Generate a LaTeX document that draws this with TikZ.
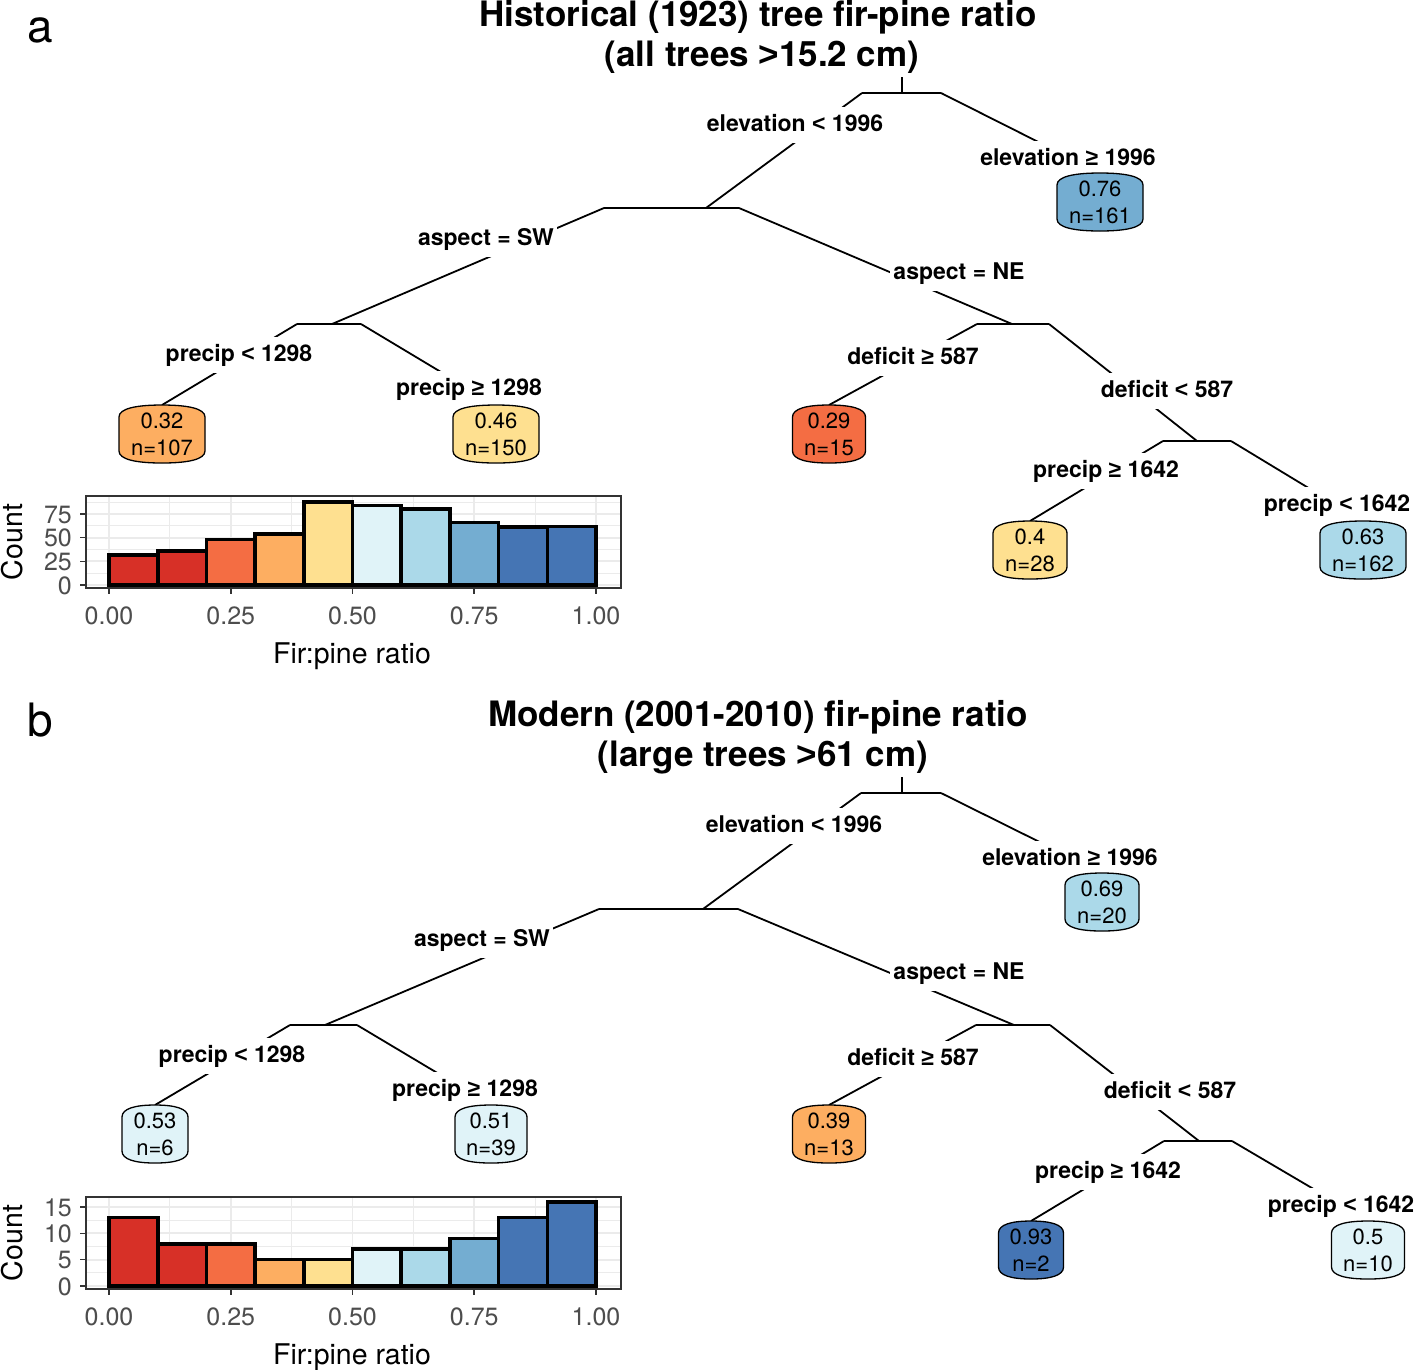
\documentclass[tikz,border=0pt]{standalone}
\usepackage{fontspec}
\setmainfont{TeX Gyre Heros}
\newfontfamily\symf{Liberation Sans}
\newcommand\gee{{\symf ≥}}
\newcommand\ltsym{{\symf <}}
\newcommand\gtsym{{\symf >}}
\definecolor{cR}{HTML}{D73027}
\definecolor{cO}{HTML}{F46D43}
\definecolor{cLO}{HTML}{FDAE61}
\definecolor{cY}{HTML}{FEE090}
\definecolor{cLB}{HTML}{E0F3F8}
\definecolor{cBa}{HTML}{ABD9E9}
\definecolor{cBb}{HTML}{74ADD1}
\definecolor{cBc}{HTML}{4575B4}
\definecolor{gridc}{HTML}{EBEBEB}
\definecolor{axg}{HTML}{333333}
\definecolor{tickt}{HTML}{4D4D4D}
\tikzset{
  branch/.style={line width=1.8pt, black},
  split/.style={font=\fontsize{23}{26}\selectfont\bfseries, fill=white, anchor=base,
     text height=17pt, text depth=5pt, inner xsep=3pt, inner ysep=7pt},
  leafnode/.style={minimum height=58pt, inner sep=0pt, draw=none},
  leafline/.style={line width=1.3pt, black},
  leaftxt/.style={font=\fontsize{22}{26}\selectfont, anchor=base, inner sep=0pt},
  title/.style={font=\fontsize{35}{40}\selectfont\bfseries, anchor=base, inner sep=0pt},
  panel/.style={font=\fontsize{46}{50}\selectfont, anchor=base, inner sep=0pt},
  tickl/.style={font=\fontsize{25}{28}\selectfont, text=tickt, anchor=base, inner sep=0pt},
  ytickl/.style={font=\fontsize{25}{28}\selectfont, text=tickt, anchor=base east, inner sep=0pt},
  axlab/.style={font=\fontsize{28.5}{32}\selectfont, anchor=base, inner sep=0pt},
  histbar/.style={line width=3.6pt, black},
  gmaj/.style={gridc, line width=1.8pt},
  gmin/.style={gridc, line width=0.9pt},
  tickm/.style={axg, line width=1.6pt},
}
\newcommand\leaf[7]{%
  \draw[leafline, fill=#5] ({#2-#4},{#3-17}) -- ({#2-#4},{#3+17})
    .. controls ({#2-#4},{#3+25.5}) and ({#2-0.6*#4},{#3+29}) .. ({#2},{#3+29})
    .. controls ({#2+0.6*#4},{#3+29}) and ({#2+#4},{#3+25.5}) .. ({#2+#4},{#3+17})
    -- ({#2+#4},{#3-17})
    .. controls ({#2+#4},{#3-25.5}) and ({#2+0.6*#4},{#3-29}) .. ({#2},{#3-29})
    .. controls ({#2-0.6*#4},{#3-29}) and ({#2-#4},{#3-25.5}) .. cycle;
  \node[leafnode, minimum width={2*#4}] (#1) at (#2,#3) {};
  \node[leaftxt] (#1a) at ({#2},{#3-6}) {#6};
  \node[leaftxt] (#1b) at ({#2},{#3+21}) {#7};
}
% histogram: #1 prefix, #2 top y, #3 zero y, #4 px per count, #5 bar list, #6 major y, #7 minor y
\newcommand\hist[7]{%
  \fill[white] (86,#2) rectangle (621,{#2+92});
  \foreach \v in {0.125,0.375,0.625,0.875} \draw[gmin] ({109+487*\v},#2) -- ({109+487*\v},{#2+92});
  \foreach \c in {#7} \draw[gmin] (86,{#3-#4*\c}) -- (621,{#3-#4*\c});
  \foreach \v in {0,0.25,0.5,0.75,1} \draw[gmaj] ({109+487*\v},#2) -- ({109+487*\v},{#2+92});
  \foreach \c in {#6} \draw[gmaj] (86,{#3-#4*\c}) -- (621,{#3-#4*\c});
  \foreach \c/\col [count=\i from 0] in {#5}
    \draw[histbar, fill=\col] ({109+48.7*\i},#3) rectangle ({109+48.7*(\i+1)},{#3-#4*\c});
  \draw[axg, line width=1.6pt] (86,#2) rectangle (621,{#2+92});
  \foreach \v/\t in {0/0.00,0.25/0.25,0.5/0.50,0.75/0.75,1/1.00} {
    \draw[tickm] ({109+487*\v},{#2+92}) -- ({109+487*\v},{#2+98});
    \node[tickl] (#1x\t) at ({109+487*\v},{#2+128}) {\t};
  }
  \foreach \c in {#6} {
    \draw[tickm] (80,{#3-#4*\c}) -- (86,{#3-#4*\c});
    \node[ytickl] (#1y\c) at (72,{#3-#4*\c+9}) {\c};
  }
  \node[axlab] (#1xl) at (352,{#2+167}) {Fir:pine ratio};
  \node[axlab, rotate=90] (#1yl) at (22,{#2+46}) {Count};
}
\begin{document}
\begin{tikzpicture}[x=1pt,y=-1pt]
\useasboundingbox[fill=white] (0,0) rectangle (1415,1369);

% ================= Panel a =================
\node[panel] (pa) at (40,42) {a};
\node[title] (ta1) at (758,26) {Historical (1923) tree fir-pine ratio};
\node[title] (ta2) at (762,66) {(all trees \gtsym15.2 cm)};

\coordinate (aS) at (902,77);
\coordinate (aB0l) at (862,93); \coordinate (aB0m) at (902,93); \coordinate (aB0r) at (941,93);
\coordinate (aB1l) at (604,208); \coordinate (aB1m) at (706,208); \coordinate (aB1r) at (739,208);
\coordinate (aB2l) at (297,324); \coordinate (aB2m) at (332,324); \coordinate (aB2r) at (361,324);
\coordinate (aB3l) at (977,324); \coordinate (aB3m) at (1012,324); \coordinate (aB3r) at (1049,324);
\coordinate (aB4l) at (1163,441); \coordinate (aB4m) at (1197,441); \coordinate (aB4r) at (1231,441);
\coordinate (aT1) at (1100,173);
\coordinate (aT2) at (162,405);
\coordinate (aT3) at (496,405);
\coordinate (aT4) at (829,405);
\coordinate (aT5) at (1030,521);
\coordinate (aT6) at (1363,521);

\draw[branch] (aS) -- (aB0m);
\draw[branch] (aB0l) -- (aB0r);
\draw[branch] (aB1l) -- (aB1r);
\draw[branch] (aB2l) -- (aB2r);
\draw[branch] (aB3l) -- (aB3r);
\draw[branch] (aB4l) -- (aB4r);
\draw[branch] (aB0l) -- (aB1m);
\draw[branch] (aB0r) -- (aT1);
\draw[branch] (aB1l) -- (aB2m);
\draw[branch] (aB1r) -- (aB3m);
\draw[branch] (aB2l) -- (aT2);
\draw[branch] (aB2r) -- (aT3);
\draw[branch] (aB3l) -- (aT4);
\draw[branch] (aB3r) -- (aB4m);
\draw[branch] (aB4l) -- (aT5);
\draw[branch] (aB4r) -- (aT6);

\node[split] (as1) at (795,131) {elevation \ltsym{} 1996};
\node[split] (as2) at (1068,165) {elevation \gee{} 1996};
\node[split] (as3) at (486,245) {aspect = SW};
\node[split] (as4) at (959,279) {aspect = NE};
\node[split] (as5) at (239,361) {precip \ltsym{} 1298};
\node[split] (as6) at (469,395) {precip \gee{} 1298};
\node[split] (as7) at (913,364) {deficit \gee{} 587};
\node[split] (as8) at (1167,397) {deficit \ltsym{} 587};
\node[split] (as9) at (1106,477) {precip \gee{} 1642};
\node[split] (as10) at (1337,511) {precip \ltsym{} 1642};

\leaf{aL1}{1100}{202}{43}{cBb}{0.76}{n=161}
\leaf{aL2}{162}{434}{43}{cLO}{0.32}{n=107}
\leaf{aL3}{496}{434}{43}{cY}{0.46}{n=150}
\leaf{aL4}{829}{434}{36.5}{cO}{0.29}{n=15}
\leaf{aL5}{1030}{550}{37}{cY}{0.4}{n=28}
\leaf{aL6}{1363}{550}{43}{cBa}{0.63}{n=162}

\hist{ha}{496}{585}{0.9467}{32/cR,36/cR,48/cO,54/cLO,88/cY,84/cLB,80/cBa,66/cBb,61/cBc,62/cBc}{0,25,50,75}{12.5,37.5,62.5,87.5}

% ================= Panel b =================
\node[panel] (pb) at (40,736) {b};
\node[title] (tb1) at (758,726) {Modern (2001-2010) fir-pine ratio};
\node[title] (tb2) at (763,766) {(large trees \gtsym61 cm)};

\coordinate (bS) at (902,777);
\coordinate (bB0l) at (861,793); \coordinate (bB0m) at (902,793); \coordinate (bB0r) at (941,793);
\coordinate (bB1l) at (599,909); \coordinate (bB1m) at (703,909); \coordinate (bB1r) at (738,909);
\coordinate (bB2l) at (290,1025); \coordinate (bB2m) at (325,1025); \coordinate (bB2r) at (357,1025);
\coordinate (bB3l) at (976,1025); \coordinate (bB3m) at (1014,1025); \coordinate (bB3r) at (1050,1025);
\coordinate (bB4l) at (1164,1141); \coordinate (bB4m) at (1199,1141); \coordinate (bB4r) at (1232,1141);
\coordinate (bT1) at (1102,873);
\coordinate (bT2) at (155,1105);
\coordinate (bT3) at (491,1105);
\coordinate (bT4) at (829,1105);
\coordinate (bT5) at (1031,1221);
\coordinate (bT6) at (1368,1221);

\draw[branch] (bS) -- (bB0m);
\draw[branch] (bB0l) -- (bB0r);
\draw[branch] (bB1l) -- (bB1r);
\draw[branch] (bB2l) -- (bB2r);
\draw[branch] (bB3l) -- (bB3r);
\draw[branch] (bB4l) -- (bB4r);
\draw[branch] (bB0l) -- (bB1m);
\draw[branch] (bB0r) -- (bT1);
\draw[branch] (bB1l) -- (bB2m);
\draw[branch] (bB1r) -- (bB3m);
\draw[branch] (bB2l) -- (bT2);
\draw[branch] (bB2r) -- (bT3);
\draw[branch] (bB3l) -- (bT4);
\draw[branch] (bB3r) -- (bB4m);
\draw[branch] (bB4l) -- (bT5);
\draw[branch] (bB4r) -- (bT6);

\node[split] (bs1) at (794,832) {elevation \ltsym{} 1996};
\node[split] (bs2) at (1070,865) {elevation \gee{} 1996};
\node[split] (bs3) at (482,946) {aspect = SW};
\node[split] (bs4) at (959,979) {aspect = NE};
\node[split] (bs5) at (232,1062) {precip \ltsym{} 1298};
\node[split] (bs6) at (465,1096) {precip \gee{} 1298};
\node[split] (bs7) at (913,1065) {deficit \gee{} 587};
\node[split] (bs8) at (1170,1098) {deficit \ltsym{} 587};
\node[split] (bs9) at (1108,1178) {precip \gee{} 1642};
\node[split] (bs10) at (1341,1212) {precip \ltsym{} 1642};

\leaf{bL1}{1102}{902}{37}{cBa}{0.69}{n=20}
\leaf{bL2}{155}{1134}{33}{cLB}{0.53}{n=6}
\leaf{bL3}{491}{1134}{36}{cLB}{0.51}{n=39}
\leaf{bL4}{829}{1134}{36.5}{cLO}{0.39}{n=13}
\leaf{bL5}{1031}{1250}{32.5}{cBc}{0.93}{n=2}
\leaf{bL6}{1368}{1250}{36.5}{cLB}{0.5}{n=10}

\hist{hb}{1197}{1286}{5.267}{13/cR,8/cR,8/cO,5/cLO,5/cY,7/cLB,7/cBa,9/cBb,13/cBc,16/cBc}{0,5,10,15}{2.5,7.5,12.5}

\end{tikzpicture}
\end{document}
